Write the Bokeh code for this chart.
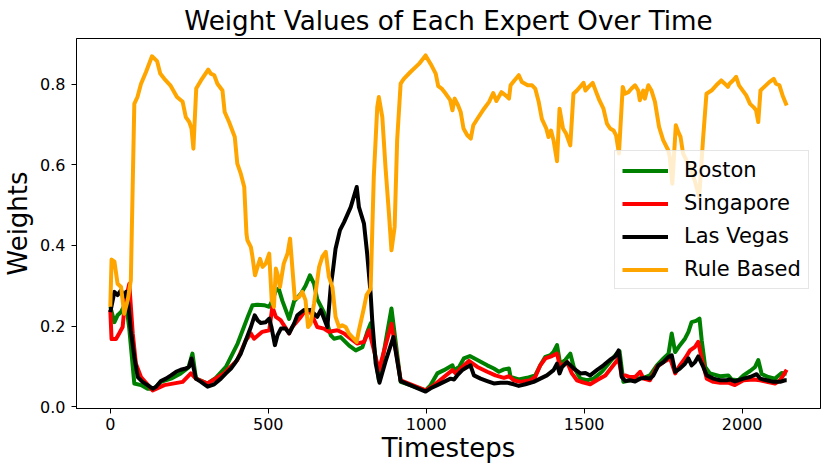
from bokeh.plotting import figure
from bokeh.models import (Legend, LegendItem, FixedTicker, PrintfTickFormatter,
                          Range1d, Title)
from bokeh.embed import file_html
from bokeh.resources import INLINE

# ---------------- data ----------------
title_text = "Weight Values of Each Expert Over Time"
x_label = "Timesteps"
y_label = "Weights"
x_ticks = [0, 500, 1000, 1500, 2000]
y_ticks = [0.0, 0.2, 0.4, 0.6, 0.8]

boston_t = [0, 13, 23, 34, 42, 50, 60, 76, 97, 118, 139, 160, 192, 223, 247, 260, 271,
            308, 334, 366, 403, 435, 450, 466, 487, 503, 513, 524, 533, 545, 566, 582,
            603, 618, 632, 645, 655, 676, 698, 708, 729, 756, 777, 798, 813, 824, 850,
            890, 919, 998, 1014, 1035, 1056, 1083, 1088, 1104, 1119, 1138, 1162, 1193,
            1214, 1230, 1246, 1262, 1267, 1293, 1319, 1345, 1361, 1377, 1393, 1403, 1414,
            1424, 1440, 1456, 1467, 1488, 1509, 1530, 1556, 1582, 1603, 1612, 1624, 1645,
            1666, 1688, 1708, 1730, 1751, 1767, 1777, 1788, 1803, 1819, 1830, 1840, 1854,
            1865, 1872, 1883, 1898, 1930, 1956, 1967, 1988, 2004, 2025, 2041, 2051, 2062,
            2083, 2104, 2125, 2141]
boston_w = [0.248, 0.210, 0.227, 0.235, 0.248, 0.256, 0.194, 0.058, 0.054, 0.045, 0.045,
            0.062, 0.070, 0.083, 0.097, 0.132, 0.070, 0.058, 0.072, 0.099, 0.157, 0.223,
            0.252, 0.253, 0.252, 0.248, 0.264, 0.288, 0.293, 0.262, 0.218, 0.262, 0.280,
            0.300, 0.326, 0.305, 0.267, 0.235, 0.177, 0.169, 0.173, 0.152, 0.140, 0.148,
            0.185, 0.207, 0.066, 0.244, 0.062, 0.041, 0.054, 0.083, 0.091, 0.103, 0.091,
            0.099, 0.120, 0.126, 0.116, 0.103, 0.095, 0.087, 0.093, 0.095, 0.074, 0.068,
            0.072, 0.078, 0.103, 0.124, 0.128, 0.136, 0.153, 0.107, 0.116, 0.132, 0.099,
            0.070, 0.066, 0.070, 0.087, 0.112, 0.132, 0.138, 0.062, 0.066, 0.070, 0.072,
            0.078, 0.103, 0.120, 0.132, 0.182, 0.136, 0.153, 0.169, 0.186, 0.210, 0.213,
            0.219, 0.165, 0.099, 0.083, 0.076, 0.078, 0.068, 0.066, 0.078, 0.089, 0.099,
            0.116, 0.081, 0.074, 0.070, 0.084, 0.082]

singapore_t = [0, 4, 18, 28, 39, 46, 60, 71, 81, 97, 134, 171, 229, 255, 271, 308, 360,
               402, 429, 445, 455, 481, 503, 513, 524, 539, 566, 576, 603, 618, 634, 655,
               676, 692, 719, 740, 761, 782, 803, 819, 850, 890, 919, 998, 1025, 1056,
               1083, 1093, 1109, 1135, 1162, 1193, 1219, 1246, 1262, 1277, 1298, 1330,
               1345, 1361, 1377, 1398, 1414, 1424, 1446, 1461, 1477, 1498, 1519, 1540,
               1567, 1588, 1609, 1619, 1630, 1645, 1661, 1677, 1688, 1708, 1730, 1751,
               1772, 1788, 1803, 1819, 1835, 1851, 1861, 1872, 1888, 1909, 1930, 1956,
               1977, 2004, 2036, 2057, 2078, 2104, 2120, 2130, 2141]
singapore_w = [0.240, 0.168, 0.168, 0.182, 0.198, 0.256, 0.305, 0.182, 0.107, 0.074,
               0.041, 0.054, 0.062, 0.083, 0.070, 0.058, 0.083, 0.116, 0.165, 0.182,
               0.169, 0.186, 0.190, 0.248, 0.223, 0.215, 0.182, 0.198, 0.223, 0.240,
               0.235, 0.198, 0.194, 0.186, 0.190, 0.182, 0.169, 0.157, 0.161, 0.190,
               0.091, 0.206, 0.066, 0.041, 0.054, 0.074, 0.091, 0.083, 0.095, 0.114,
               0.099, 0.087, 0.078, 0.072, 0.076, 0.066, 0.062, 0.066, 0.074, 0.103,
               0.120, 0.126, 0.132, 0.099, 0.111, 0.083, 0.066, 0.060, 0.056, 0.066,
               0.078, 0.099, 0.120, 0.075, 0.078, 0.074, 0.074, 0.087, 0.070, 0.066,
               0.099, 0.111, 0.120, 0.083, 0.103, 0.120, 0.140, 0.149, 0.161, 0.120,
               0.070, 0.062, 0.060, 0.060, 0.054, 0.066, 0.068, 0.066, 0.062, 0.058,
               0.066, 0.078, 0.092]

vegas_t = [0, 13, 23, 34, 42, 50, 57, 65, 76, 87, 102, 118, 134, 145, 160, 176, 192, 208,
           223, 239, 250, 257, 271, 287, 308, 329, 350, 366, 382, 397, 413, 429, 445, 457,
           466, 476, 492, 503, 510, 521, 529, 540, 555, 566, 582, 592, 613, 634, 655, 666,
           687, 698, 705, 713, 727, 740, 761, 780, 787, 803, 813, 824, 829, 840, 852, 871,
           896, 919, 998, 1014, 1035, 1056, 1077, 1088, 1098, 1114, 1130, 1140, 1151, 1172,
           1193, 1214, 1235, 1256, 1277, 1293, 1314, 1340, 1361, 1382, 1403, 1414, 1422,
           1430, 1446, 1467, 1488, 1504, 1519, 1540, 1561, 1582, 1598, 1609, 1619, 1630,
           1645, 1661, 1677, 1693, 1708, 1719, 1735, 1751, 1767, 1777, 1788, 1803, 1819,
           1830, 1840, 1851, 1861, 1877, 1888, 1909, 1930, 1951, 1961, 1977, 1988, 2004,
           2025, 2046, 2057, 2078, 2099, 2120, 2136, 2141]
vegas_w = [0.235, 0.285, 0.277, 0.289, 0.273, 0.285, 0.256, 0.190, 0.124, 0.074, 0.062,
           0.054, 0.045, 0.050, 0.064, 0.070, 0.078, 0.087, 0.092, 0.095, 0.100, 0.120,
           0.070, 0.062, 0.050, 0.056, 0.070, 0.083, 0.095, 0.111, 0.132, 0.165, 0.198,
           0.227, 0.215, 0.208, 0.210, 0.219, 0.198, 0.153, 0.177, 0.194, 0.194, 0.182,
           0.207, 0.227, 0.240, 0.240, 0.223, 0.240, 0.198, 0.300, 0.340, 0.392, 0.438,
           0.458, 0.495, 0.545, 0.495, 0.454, 0.380, 0.281, 0.215, 0.108, 0.060, 0.112,
           0.173, 0.064, 0.038, 0.046, 0.054, 0.062, 0.070, 0.068, 0.078, 0.091, 0.099,
           0.103, 0.078, 0.070, 0.064, 0.058, 0.060, 0.060, 0.056, 0.052, 0.056, 0.062,
           0.070, 0.078, 0.091, 0.107, 0.083, 0.099, 0.111, 0.095, 0.083, 0.084, 0.078,
           0.091, 0.103, 0.117, 0.125, 0.140, 0.074, 0.064, 0.066, 0.063, 0.070, 0.072,
           0.070, 0.078, 0.103, 0.111, 0.124, 0.128, 0.087, 0.095, 0.107, 0.120, 0.103,
           0.111, 0.125, 0.099, 0.078, 0.070, 0.066, 0.066, 0.068, 0.063, 0.066, 0.070,
           0.074, 0.081, 0.070, 0.066, 0.062, 0.062, 0.066, 0.066]

rule_t = [0, 4, 13, 23, 34, 44, 55, 65, 76, 86, 97, 113, 132, 148, 158, 171, 190, 211,
          229, 239, 250, 257, 263, 272, 287, 310, 318, 329, 339, 355, 362, 376, 394, 402,
          413, 424, 431, 434, 445, 450, 458, 466, 474, 482, 492, 503, 511, 518, 524, 529,
          537, 549, 561, 569, 576, 584, 597, 608, 618, 626, 634, 645, 661, 671, 682, 692,
          703, 713, 724, 734, 745, 755, 766, 780, 787, 801, 811, 824, 834, 845, 850, 861,
          871, 882, 890, 900, 908, 919, 929, 950, 977, 998, 1014, 1030, 1038, 1050, 1062,
          1076, 1083, 1090, 1101, 1109, 1118, 1130, 1141, 1149, 1162, 1183, 1199, 1212,
          1222, 1238, 1251, 1262, 1267, 1279, 1293, 1303, 1321, 1335, 1345, 1356, 1366,
          1380, 1387, 1395, 1403, 1414, 1422, 1433, 1443, 1456, 1466, 1477, 1498, 1504,
          1514, 1527, 1538, 1548, 1561, 1572, 1582, 1593, 1601, 1610, 1622, 1629, 1640,
          1650, 1661, 1671, 1676, 1687, 1692, 1703, 1713, 1724, 1737, 1750, 1766, 1771,
          1779, 1790, 1798, 1805, 1813, 1829, 1850, 1864, 1876, 1887, 1903, 1918, 1934,
          1945, 1955, 1960, 1971, 1981, 1990, 2002, 2013, 2025, 2036, 2044, 2051, 2058,
          2070, 2086, 2100, 2107, 2118, 2128, 2141]
rule_w = [0.248, 0.365, 0.360, 0.305, 0.297, 0.231, 0.264, 0.314, 0.751, 0.768, 0.800,
          0.830, 0.869, 0.857, 0.826, 0.813, 0.797, 0.768, 0.756, 0.718, 0.706, 0.690,
          0.640, 0.789, 0.809, 0.836, 0.826, 0.822, 0.801, 0.784, 0.731, 0.706, 0.669,
          0.603, 0.578, 0.545, 0.429, 0.413, 0.396, 0.372, 0.326, 0.347, 0.367, 0.347,
          0.355, 0.380, 0.264, 0.248, 0.343, 0.330, 0.297, 0.355, 0.380, 0.417, 0.347,
          0.268, 0.272, 0.285, 0.264, 0.198, 0.206, 0.256, 0.347, 0.372, 0.384, 0.322,
          0.297, 0.223, 0.198, 0.202, 0.198, 0.182, 0.173, 0.161, 0.190, 0.239, 0.277,
          0.293, 0.570, 0.743, 0.768, 0.718, 0.595, 0.479, 0.388, 0.446, 0.661, 0.801,
          0.813, 0.830, 0.850, 0.871, 0.850, 0.826, 0.795, 0.788, 0.776, 0.760, 0.735,
          0.764, 0.747, 0.731, 0.690, 0.673, 0.665, 0.698, 0.714, 0.739, 0.756, 0.778,
          0.758, 0.780, 0.772, 0.764, 0.797, 0.809, 0.822, 0.805, 0.797, 0.797, 0.789,
          0.756, 0.714, 0.690, 0.669, 0.685, 0.661, 0.609, 0.739, 0.690, 0.677, 0.648,
          0.776, 0.784, 0.803, 0.784, 0.793, 0.803, 0.780, 0.760, 0.739, 0.702, 0.690,
          0.685, 0.673, 0.628, 0.793, 0.776, 0.780, 0.789, 0.797, 0.784, 0.760, 0.784,
          0.764, 0.797, 0.784, 0.756, 0.694, 0.661, 0.636, 0.619, 0.553, 0.698, 0.681,
          0.669, 0.628, 0.603, 0.561, 0.520, 0.661, 0.776, 0.784, 0.797, 0.809, 0.801,
          0.793, 0.801, 0.809, 0.818, 0.797, 0.784, 0.772, 0.751, 0.743, 0.735, 0.706,
          0.784, 0.793, 0.805, 0.813, 0.801, 0.797, 0.772, 0.747]

series_names = ["Boston", "Singapore", "Las Vegas", "Rule Based"]
series_colors = ["#008000", "#ff0000", "#000000", "#ffa500"]
series_t = [boston_t, singapore_t, vegas_t, rule_t]
series_w = [boston_w, singapore_w, vegas_w, rule_w]

FONT = "DejaVu Sans"

p = figure(width=830, height=474, output_backend="svg", toolbar_location=None,
           x_range=Range1d(-107, 2248), y_range=Range1d(-0.004, 0.913),
           min_border_left=76, min_border_right=10, min_border_top=38,
           min_border_bottom=66)
p.title = Title(text=title_text, align="center", text_font=FONT,
                text_font_size="26.2px", text_font_style="normal",
                text_color="black", standoff=5)

p.xgrid.visible = False
p.ygrid.visible = False
p.outline_line_color = "black"
p.outline_line_width = 1
p.background_fill_color = "white"
p.border_fill_color = "white"

for ax in (p.xaxis[0], p.yaxis[0]):
    ax.axis_line_color = "black"
    ax.major_tick_line_color = "black"
    ax.major_tick_out = 5
    ax.major_tick_in = 0
    ax.minor_tick_line_color = None
    ax.major_label_text_font = FONT
    ax.major_label_text_font_size = "16px"
    ax.major_label_text_color = "black"
    ax.axis_label_text_font = FONT
    ax.axis_label_text_font_size = "26px"
    ax.axis_label_text_font_style = "normal"
    ax.axis_label_text_color = "black"

p.xaxis.ticker = FixedTicker(ticks=x_ticks)
p.yaxis.ticker = FixedTicker(ticks=y_ticks)
p.yaxis.formatter = PrintfTickFormatter(format="%.1f")
p.xaxis.axis_label = x_label
p.yaxis.axis_label = y_label
p.xaxis.major_label_standoff = 4
p.xaxis.axis_label_standoff = 0
p.yaxis.major_label_standoff = 6
p.yaxis.axis_label_standoff = 4

items = []
for name, color, t, w in zip(series_names, series_colors, series_t, series_w):
    r = p.line(t, w, line_color=color, line_width=4, line_join="round")
    items.append(LegendItem(label=name, renderers=[r]))

legend = Legend(items=items, location=(538, 119), label_text_font=FONT,
                label_text_font_size="21px", label_text_color="black",
                glyph_width=46, glyph_height=23, label_height=23,
                label_standoff=16, spacing=9, padding=7, margin=0,
                border_line_color="#cccccc", border_line_width=1,
                background_fill_color="white", background_fill_alpha=0.8)
p.add_layout(legend, "center")

open("out.html", "w").write(file_html(p, INLINE))
